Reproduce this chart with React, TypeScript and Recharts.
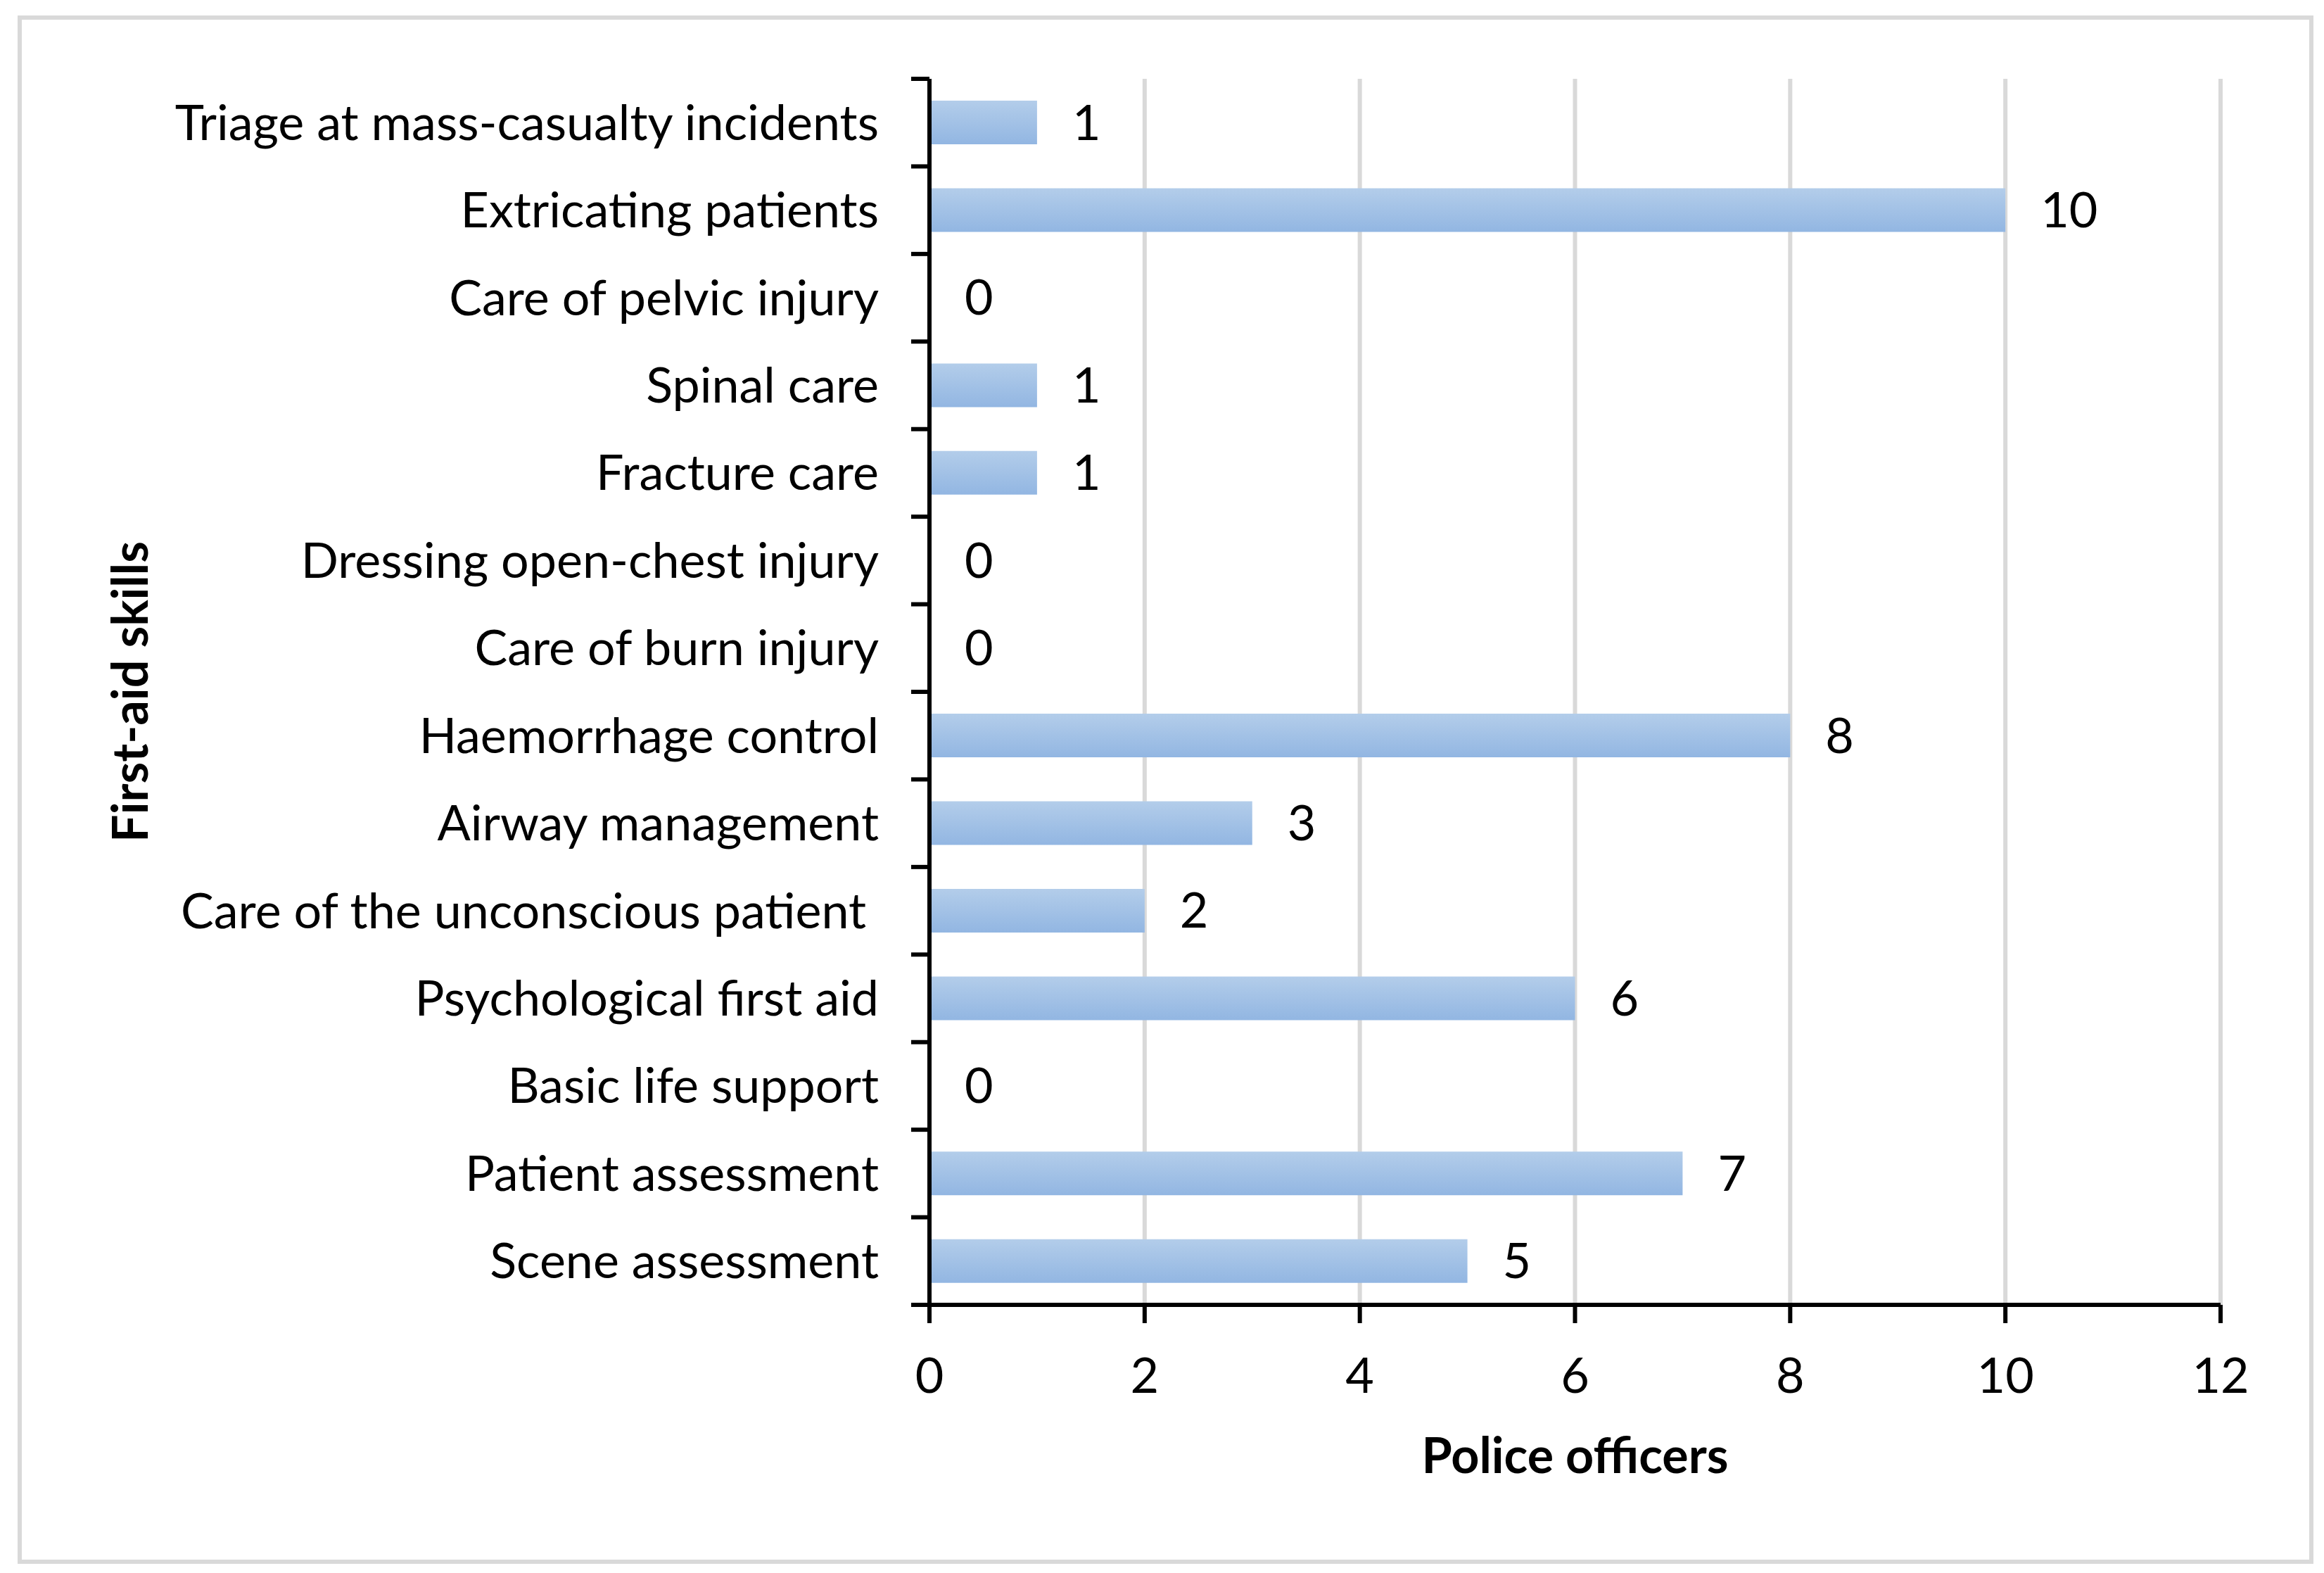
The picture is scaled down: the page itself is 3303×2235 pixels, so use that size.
import { BarChart, Bar, XAxis, YAxis, CartesianGrid, LabelList } from 'recharts';

const skills = [
  'Triage at mass-casualty incidents',
  'Extricating patients',
  'Care of pelvic injury',
  'Spinal care',
  'Fracture care',
  'Dressing open-chest injury',
  'Care of burn injury',
  'Haemorrhage control',
  'Airway management',
  'Care of the unconscious patient ',
  'Psychological first aid',
  'Basic life support',
  'Patient assessment',
  'Scene assessment',
];
const officers = [1, 10, 0, 1, 1, 0, 0, 8, 3, 2, 6, 0, 7, 5];
const xTicks = [0, 2, 4, 6, 8, 10, 12];

const data = skills.map((name, i) => ({ name, value: officers[i] }));

const W = 3303;
const H = 2235;
const MARGIN = { top: 112, right: 147, bottom: 121, left: 0 };
const XAXIS_H = 260;
const YAXIS_W = 1321;
const BAND = (H - MARGIN.top - MARGIN.bottom - XAXIS_H) / skills.length;
const FONT = 'Lato, "Noto Sans", sans-serif';
const FS = 70;

function SkillTick(props: any) {
  const { x, y, payload, index } = props;
  const half = BAND / 2;
  return (
    <g>
      <line x1={x - 26} x2={x} y1={y - half} y2={y - half} stroke="#000" strokeWidth={6} />
      {index === skills.length - 1 && (
        <line x1={x - 26} x2={x} y1={y + half} y2={y + half} stroke="#000" strokeWidth={6} />
      )}
      <text
        x={x - 72}
        y={y}
        dy="0.35em"
        textAnchor="end"
        fill="#000"
        fontSize={FS}
        fontFamily={FONT}
        style={{ whiteSpace: 'pre' }}
      >
        {payload.value}
      </text>
    </g>
  );
}

// draws the count next to each bar, zero-length bars included
function CountLabel(props: any) {
  const { x, y, width, height, value } = props;
  return (
    <text
      x={Number(x) + Number(width) + 50}
      y={Number(y) + Number(height) / 2}
      dy="0.35em"
      textAnchor="start"
      fill="#000"
      fontSize={FS}
      fontFamily={FONT}
    >
      {value}
    </text>
  );
}

export default function App() {
  return (
    <div style={{ position: 'absolute', left: 0, top: 0, width: W, height: H, background: '#fff' }}>
      <div
        style={{
          position: 'absolute',
          left: 25,
          top: 22,
          width: 3263 - 12,
          height: 2200 - 12,
          border: '6px solid #d9d9d9',
        }}
      />
      <div style={{ position: 'absolute', left: 0, top: 0 }}>
        <BarChart width={W} height={H} data={data} layout="vertical" margin={MARGIN} barCategoryGap="25%">
          <defs>
            <linearGradient id="barFill" x1="0" y1="0" x2="0" y2="1">
              <stop offset="0%" stopColor="#b3cdea" />
              <stop offset="100%" stopColor="#92b6e2" />
            </linearGradient>
          </defs>
          <CartesianGrid horizontal={false} stroke="#d9d9d9" strokeWidth={6} />
          <XAxis
            type="number"
            domain={[0, 12]}
            ticks={xTicks}
            height={XAXIS_H}
            tickSize={26}
            tickMargin={49}
            axisLine={{ stroke: '#000', strokeWidth: 6 }}
            tickLine={{ stroke: '#000', strokeWidth: 6 }}
            tick={{ fill: '#000', fontSize: FS, fontFamily: FONT }}
            label={{
              value: 'Police officers',
              position: 'insideBottom',
              offset: 21,
              fill: '#000',
              fontSize: FS,
              fontWeight: 700,
              fontFamily: FONT,
            }}
          />
          <YAxis
            type="category"
            dataKey="name"
            width={YAXIS_W}
            tickSize={0}
            tickMargin={0}
            tickLine={false}
            axisLine={{ stroke: '#000', strokeWidth: 6 }}
            tick={<SkillTick />}
            interval={0}
            label={{
              content: (p: any) => {
                const vb = p.viewBox || {};
                const cy = (vb.y ?? 0) + (vb.height ?? 0) / 2;
                return (
                  <text
                    x={183}
                    y={cy}
                    transform={`rotate(-90 183 ${cy})`}
                    textAnchor="middle"
                    dominantBaseline="central"
                    fill="#000"
                    fontSize={FS}
                    fontWeight={700}
                    fontFamily={FONT}
                  >
                    First-aid skills
                  </text>
                );
              },
            }}
          />
          <Bar dataKey="value" fill="url(#barFill)" minPointSize={0.01} isAnimationActive={false}>
            <LabelList dataKey="value" content={<CountLabel />} />
          </Bar>
        </BarChart>
      </div>
    </div>
  );
}
